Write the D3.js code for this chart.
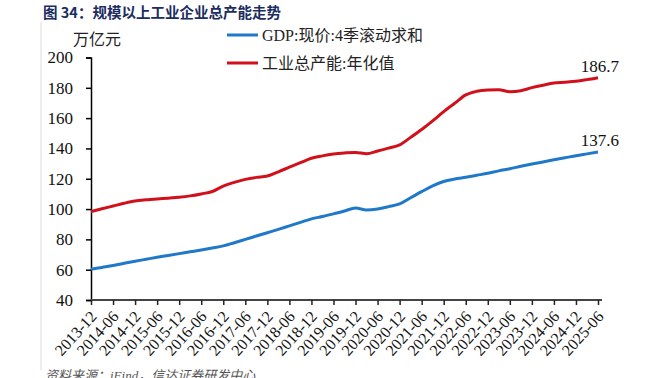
<!DOCTYPE html>
<html>
<head>
<meta charset="utf-8">
<script src="https://cdn.jsdelivr.net/npm/d3@7"></script>
<style>
  body { margin: 0; background: #fff; }
  svg text { font-family: "Liberation Serif", "Noto Sans CJK SC", serif; }
</style>
</head>
<body>
<div id="chart"></div>
<script>
// quarter ends, 2013-12 .. 2025-06
var quarters = ["2013-12","2014-03","2014-06","2014-09","2014-12","2015-03","2015-06","2015-09",
  "2015-12","2016-03","2016-06","2016-09","2016-12","2017-03","2017-06","2017-09",
  "2017-12","2018-03","2018-06","2018-09","2018-12","2019-03","2019-06","2019-09",
  "2019-12","2020-03","2020-06","2020-09","2020-12","2021-03","2021-06","2021-09",
  "2021-12","2022-03","2022-06","2022-09","2022-12","2023-03","2023-06","2023-09",
  "2023-12","2024-03","2024-06","2024-09","2024-12","2025-03","2025-06"];

// GDP: current price, 4-quarter rolling sum (万亿元)
var gdp = [60.3,61.5,62.7,64.2,65.6,66.9,68.2,69.4,
  70.6,71.8,73.0,74.3,75.7,77.8,80.0,82.2,
  84.4,86.6,88.9,91.2,93.5,95.1,96.8,98.7,
  100.7,99.4,100.1,101.6,103.4,107.5,111.5,115.3,
  118.2,119.8,121.0,122.3,123.6,125.2,126.6,128.2,
  129.7,131.1,132.5,133.8,135.2,136.4,137.6];

// industrial total capacity, annualised (万亿元)
var capacity = [98.3,100.2,102.0,103.8,105.3,106.1,106.7,107.2,
  107.8,108.7,110.0,111.6,115.2,117.6,119.6,120.9,
  121.8,124.6,127.6,130.6,133.5,135.1,136.3,137.0,
  137.4,136.5,138.3,140.2,142.3,147.3,152.5,158.2,
  164.3,169.8,175.3,177.7,178.6,178.8,177.4,178.1,
  180.1,181.7,183.2,183.7,184.3,185.4,186.7];

var xTickLabels = quarters.filter(function(q, i){ return i % 2 == 0; });
var yTicks = [40,60,80,100,120,140,160,180,200];

var series = [
  {name: "GDP:现价:4季滚动求和", values: gdp, color: "#1f78c8"},
  {name: "工业总产能:年化值", values: capacity, color: "#d0111b"}
];

var width = 651, height = 378;
var margin = {left: 91, right: 53, top: 57.5, bottom: 78};

var svg = d3.select("#chart").append("svg")
  .attr("width", width)
  .attr("height", height);

var x = d3.scalePoint().domain(quarters).range([margin.left, width - margin.right]);
var y = d3.scaleLinear().domain([40, 200]).range([height - margin.bottom, margin.top]);

// title
svg.append("text")
  .attr("x", 43).attr("y", 18)
  .attr("fill", "#1a2c60")
  .attr("font-size", 14.5).attr("font-weight", "bold")
  .style("font-family", "'Noto Sans CJK SC', sans-serif")
  .text("图 34：规模以上工业企业总产能走势");

// light frame line on the left
svg.append("line")
  .attr("x1", 41).attr("x2", 41).attr("y1", 22).attr("y2", 370)
  .attr("stroke", "#dcdcdc").attr("stroke-width", 1);

// unit
svg.append("text")
  .attr("x", 73).attr("y", 45)
  .attr("font-size", 16).attr("fill", "#222")
  .text("万亿元");

// y axis
var yAxis = svg.append("g")
  .attr("transform", "translate(" + margin.left + ",0)")
  .call(d3.axisLeft(y).tickValues(yTicks).tickSize(5).tickPadding(13));
yAxis.select(".domain").attr("stroke", "#000").attr("stroke-width", 1.5);
yAxis.selectAll(".tick line").attr("stroke", "#000").attr("stroke-width", 1.5);
yAxis.selectAll("text").attr("font-size", 17).attr("fill", "#111")
  .style("font-family", "'Liberation Serif', serif");

// x axis
var xAxis = svg.append("g")
  .attr("transform", "translate(0," + (height - margin.bottom) + ")")
  .call(d3.axisBottom(x).tickValues(xTickLabels).tickSize(5).tickSizeOuter(0));
xAxis.select(".domain").attr("stroke", "#444").attr("stroke-width", 2)
  .attr("d", "M" + margin.left + ",0H" + (width - margin.right + 4));
xAxis.selectAll(".tick line").attr("stroke", "#222").attr("stroke-width", 1.5);
xAxis.selectAll("text")
  .attr("font-size", 16).attr("fill", "#111")
  .style("font-family", "'Liberation Serif', serif")
  .attr("text-anchor", "end")
  .attr("x", 0).attr("y", 0).attr("dx", 0).attr("dy", 0)
  .attr("transform", "translate(6,17) rotate(-48)");

// lines
var line = d3.line()
  .x(function(d, i){ return x(quarters[i]); })
  .y(function(d){ return y(d); })
  .curve(d3.curveMonotoneX);

svg.selectAll(".series")
  .data(series)
  .enter().append("path")
  .attr("class", "series")
  .attr("fill", "none")
  .attr("stroke", function(d){ return d.color; })
  .attr("stroke-width", 3)
  .attr("stroke-linejoin", "round")
  .attr("d", function(d){ return line(d.values); });

// end labels
series.forEach(function(s){
  var last = s.values[s.values.length - 1];
  svg.append("text")
    .attr("x", x(quarters[quarters.length - 1]) + 21)
    .attr("y", y(last) - 6)
    .attr("text-anchor", "end")
    .attr("font-size", 17).attr("fill", "#111")
    .text(last.toFixed(1));
});

// legend
var legend = svg.append("g").attr("transform", "translate(227,35)");
series.forEach(function(s, i){
  var g = legend.append("g").attr("transform", "translate(0," + (i * 28) + ")");
  g.append("line").attr("x1", 0).attr("x2", 31).attr("y1", 0).attr("y2", 0)
    .attr("stroke", s.color).attr("stroke-width", 3);
  g.append("text").attr("x", 35).attr("y", 6)
    .attr("font-size", 16).attr("fill", "#222")
    .text(s.name);
});

// source (cut by the bottom edge, as in the original)
svg.append("text")
  .attr("x", 45).attr("y", 380)
  .attr("font-size", 13).attr("fill", "#555")
  .attr("font-style", "italic")
  .text("资料来源：iFind，信达证券研发中心");
</script>
</body>
</html>
